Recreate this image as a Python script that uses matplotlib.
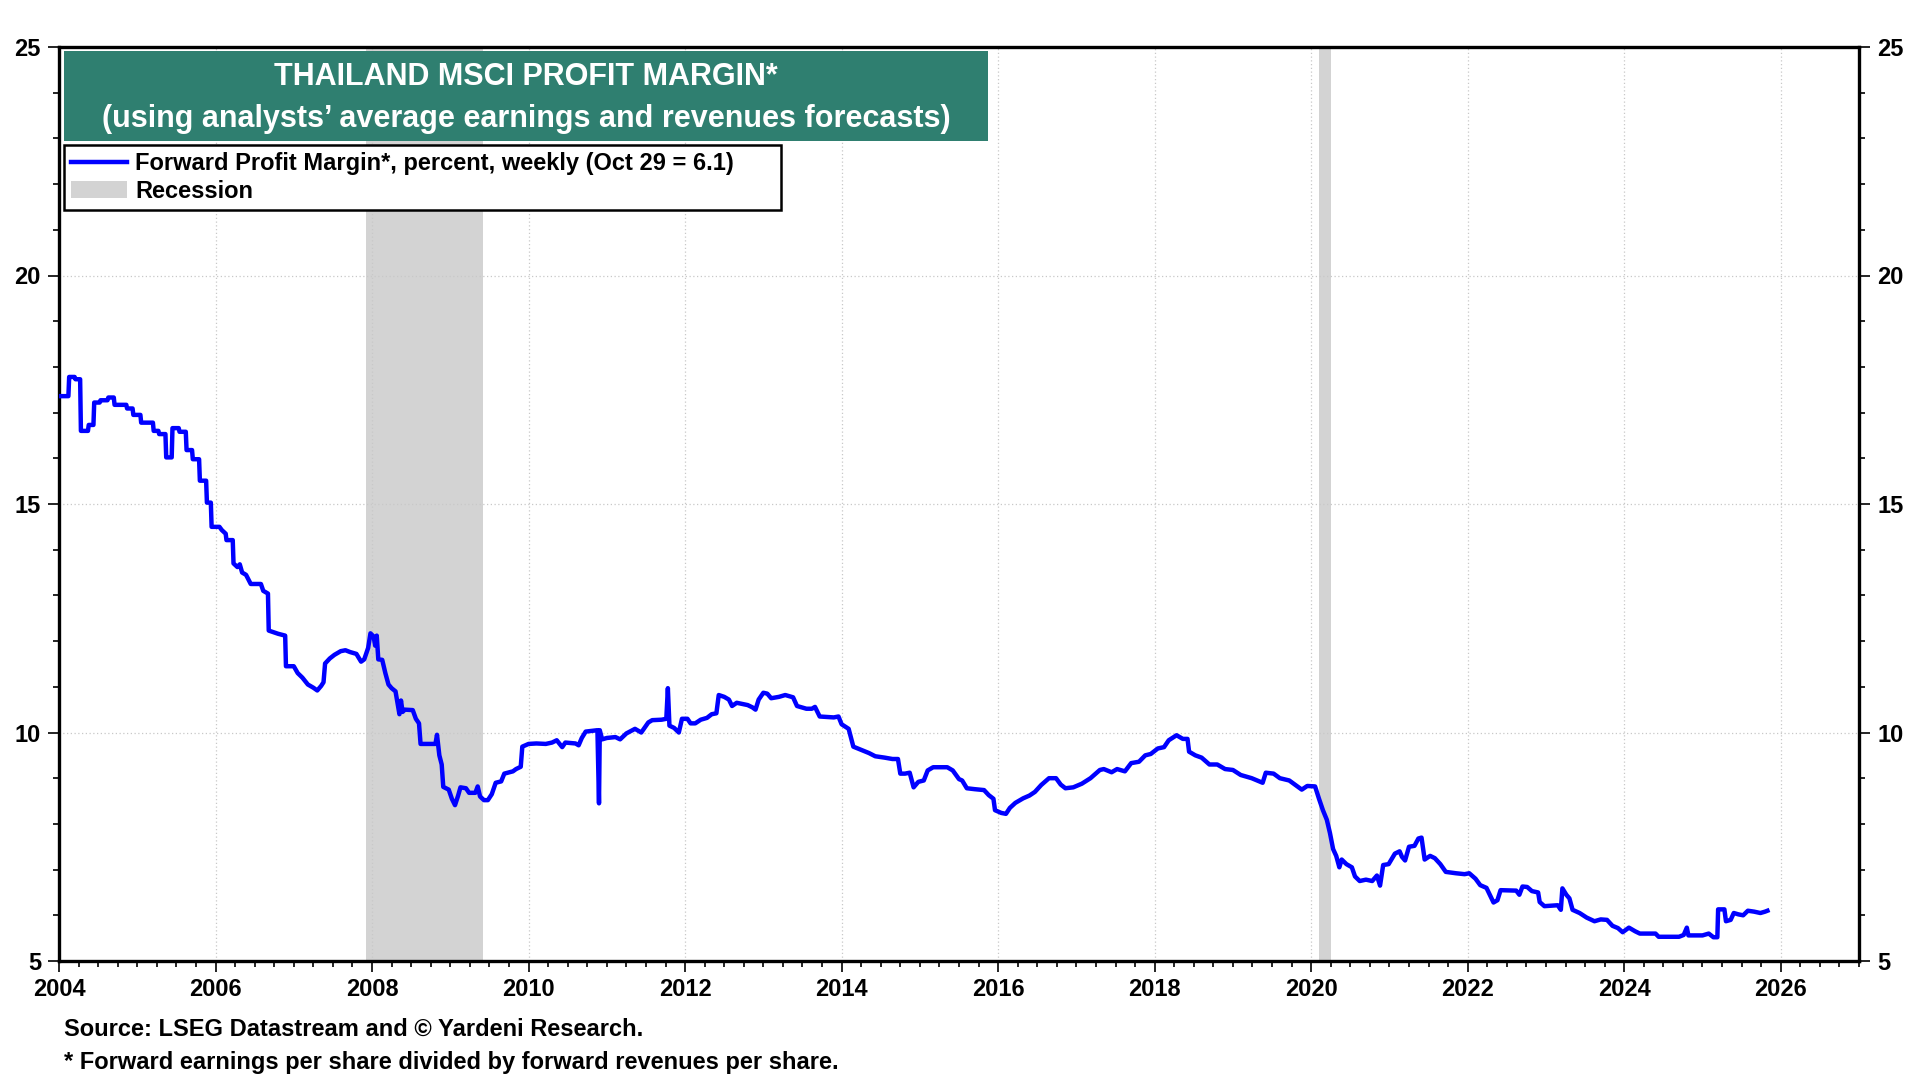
#!/usr/bin/env python3
import matplotlib
matplotlib.use("Agg")
import matplotlib.pyplot as plt
from matplotlib.lines import Line2D
from matplotlib.patches import Patch, Rectangle
from matplotlib.ticker import MultipleLocator

plt.rcParams['font.family'] = ['Liberation Sans', 'DejaVu Sans']
plt.rcParams['font.weight'] = 'bold'

# weekly forward profit margin (decimal year, percent)
years = [
    2004.00, 2004.12, 2004.13, 2004.20, 2004.21, 2004.27, 2004.28, 2004.37,
    2004.38, 2004.44, 2004.45, 2004.52, 2004.53, 2004.62, 2004.63, 2004.70,
    2004.71, 2004.86, 2004.87, 2004.94, 2004.95, 2005.04, 2005.05, 2005.20,
    2005.21, 2005.27, 2005.28, 2005.36, 2005.37, 2005.44, 2005.45, 2005.53,
    2005.54, 2005.62, 2005.63, 2005.70, 2005.71, 2005.79, 2005.80, 2005.88,
    2005.89, 2005.94, 2005.95, 2006.05, 2006.08, 2006.13, 2006.14, 2006.22,
    2006.23, 2006.28, 2006.31, 2006.34, 2006.39, 2006.45, 2006.58, 2006.61,
    2006.67, 2006.68, 2006.80, 2006.89, 2006.90, 2007.00, 2007.05, 2007.11,
    2007.18, 2007.25, 2007.30, 2007.35, 2007.38, 2007.40, 2007.46, 2007.52,
    2007.60, 2007.66, 2007.72, 2007.80, 2007.86, 2007.90, 2007.95, 2007.98,
    2008.02, 2008.04, 2008.06, 2008.08, 2008.13, 2008.17, 2008.21, 2008.25,
    2008.30, 2008.33, 2008.35, 2008.37, 2008.39, 2008.42, 2008.52, 2008.56,
    2008.60, 2008.62, 2008.81, 2008.83, 2008.86, 2008.89, 2008.91, 2008.98,
    2009.02, 2009.06, 2009.10, 2009.13, 2009.20, 2009.24, 2009.32, 2009.35,
    2009.38, 2009.43, 2009.48, 2009.53, 2009.58, 2009.65, 2009.69, 2009.80,
    2009.84, 2009.90, 2009.92, 2010.00, 2010.10, 2010.22, 2010.30, 2010.36,
    2010.43, 2010.47, 2010.60, 2010.64, 2010.68, 2010.73, 2010.88, 2010.90,
    2010.91, 2010.94, 2011.00, 2011.11, 2011.17, 2011.25, 2011.36, 2011.44,
    2011.53, 2011.58, 2011.70, 2011.76, 2011.78, 2011.80, 2011.86, 2011.92,
    2011.96, 2012.03, 2012.07, 2012.13, 2012.20, 2012.28, 2012.34, 2012.40,
    2012.43, 2012.50, 2012.56, 2012.60, 2012.66, 2012.80, 2012.86, 2012.90,
    2012.94, 2013.00, 2013.05, 2013.10, 2013.20, 2013.28, 2013.38, 2013.43,
    2013.55, 2013.62, 2013.66, 2013.72, 2013.90, 2013.96, 2014.00, 2014.09,
    2014.15, 2014.25, 2014.35, 2014.43, 2014.55, 2014.65, 2014.72, 2014.75,
    2014.81, 2014.87, 2014.92, 2014.98, 2015.05, 2015.10, 2015.17, 2015.35,
    2015.42, 2015.50, 2015.54, 2015.60, 2015.70, 2015.82, 2015.88, 2015.94,
    2015.96, 2016.04, 2016.10, 2016.15, 2016.22, 2016.32, 2016.40, 2016.47,
    2016.55, 2016.65, 2016.74, 2016.80, 2016.86, 2016.96, 2017.07, 2017.18,
    2017.30, 2017.35, 2017.45, 2017.52, 2017.62, 2017.70, 2017.80, 2017.88,
    2017.95, 2018.04, 2018.12, 2018.18, 2018.28, 2018.36, 2018.42, 2018.44,
    2018.52, 2018.60, 2018.70, 2018.80, 2018.90, 2019.00, 2019.10, 2019.24,
    2019.38, 2019.42, 2019.52, 2019.60, 2019.72, 2019.80, 2019.88, 2019.95,
    2020.05, 2020.10, 2020.15, 2020.20, 2020.24, 2020.28, 2020.32, 2020.36,
    2020.39, 2020.45, 2020.52, 2020.56, 2020.62, 2020.70, 2020.78, 2020.84,
    2020.88, 2020.92, 2020.99, 2021.07, 2021.13, 2021.16, 2021.20, 2021.25,
    2021.32, 2021.37, 2021.41, 2021.45, 2021.52, 2021.58, 2021.65, 2021.72,
    2021.85, 2021.96, 2022.02, 2022.10, 2022.16, 2022.24, 2022.33, 2022.38,
    2022.42, 2022.62, 2022.66, 2022.70, 2022.76, 2022.82, 2022.90, 2022.92,
    2022.98, 2023.15, 2023.19, 2023.21, 2023.26, 2023.30, 2023.34, 2023.43,
    2023.52, 2023.62, 2023.70, 2023.78, 2023.85, 2023.92, 2023.98, 2024.06,
    2024.14, 2024.20, 2024.40, 2024.44, 2024.70, 2024.76, 2024.80, 2024.82,
    2025.00, 2025.08, 2025.14, 2025.19, 2025.20, 2025.28, 2025.30, 2025.36,
    2025.40, 2025.46, 2025.52, 2025.58, 2025.66, 2025.74, 2025.80, 2025.83,
]
margin = [
    17.36, 17.36, 17.78, 17.78, 17.73, 17.73, 16.60, 16.60,
    16.73, 16.73, 17.22, 17.22, 17.27, 17.27, 17.33, 17.33,
    17.17, 17.17, 17.09, 17.09, 16.95, 16.95, 16.78, 16.78,
    16.60, 16.60, 16.53, 16.53, 16.02, 16.02, 16.66, 16.66,
    16.58, 16.58, 16.18, 16.18, 15.98, 15.98, 15.51, 15.51,
    15.03, 15.03, 14.50, 14.50, 14.43, 14.35, 14.21, 14.21,
    13.70, 13.62, 13.68, 13.50, 13.45, 13.25, 13.25, 13.10,
    13.04, 12.23, 12.16, 12.12, 11.45, 11.45, 11.30, 11.20,
    11.05, 10.98, 10.92, 11.02, 11.10, 11.51, 11.62, 11.70,
    11.78, 11.80, 11.76, 11.72, 11.55, 11.60, 11.85, 12.17,
    12.10, 11.90, 12.12, 11.60, 11.59, 11.30, 11.05, 10.97,
    10.90, 10.60, 10.40, 10.70, 10.45, 10.50, 10.49, 10.30,
    10.20, 9.75, 9.75, 9.95, 9.50, 9.30, 8.81, 8.75,
    8.55, 8.41, 8.62, 8.80, 8.78, 8.68, 8.68, 8.82,
    8.60, 8.52, 8.52, 8.65, 8.90, 8.93, 9.10, 9.15,
    9.20, 9.25, 9.69, 9.75, 9.76, 9.75, 9.78, 9.83,
    9.68, 9.78, 9.76, 9.72, 9.88, 10.02, 10.05, 8.45,
    10.05, 9.85, 9.88, 9.90, 9.85, 9.98, 10.08, 10.00,
    10.22, 10.27, 10.28, 10.30, 10.97, 10.15, 10.10, 10.00,
    10.30, 10.30, 10.20, 10.20, 10.28, 10.32, 10.40, 10.42,
    10.82, 10.78, 10.72, 10.58, 10.65, 10.60, 10.55, 10.50,
    10.72, 10.87, 10.85, 10.75, 10.78, 10.82, 10.77, 10.58,
    10.52, 10.52, 10.56, 10.35, 10.33, 10.35, 10.18, 10.08,
    9.69, 9.62, 9.55, 9.48, 9.45, 9.42, 9.42, 9.10,
    9.10, 9.12, 8.80, 8.92, 8.95, 9.17, 9.24, 9.24,
    9.17, 8.98, 8.95, 8.78, 8.76, 8.74, 8.63, 8.55,
    8.30, 8.24, 8.22, 8.35, 8.46, 8.56, 8.62, 8.70,
    8.85, 9.00, 9.00, 8.86, 8.78, 8.80, 8.88, 9.00,
    9.18, 9.20, 9.13, 9.20, 9.15, 9.33, 9.36, 9.50,
    9.53, 9.65, 9.68, 9.83, 9.94, 9.86, 9.86, 9.58,
    9.50, 9.45, 9.30, 9.30, 9.20, 9.18, 9.07, 9.00,
    8.90, 9.12, 9.10, 9.00, 8.95, 8.85, 8.75, 8.83,
    8.82, 8.55, 8.30, 8.09, 7.80, 7.45, 7.30, 7.05,
    7.22, 7.12, 7.05, 6.85, 6.75, 6.78, 6.75, 6.87,
    6.65, 7.10, 7.12, 7.35, 7.40, 7.28, 7.20, 7.50,
    7.52, 7.68, 7.70, 7.22, 7.30, 7.25, 7.12, 6.95,
    6.92, 6.90, 6.92, 6.80, 6.66, 6.60, 6.28, 6.33,
    6.55, 6.54, 6.45, 6.63, 6.62, 6.53, 6.50, 6.29,
    6.20, 6.22, 6.12, 6.59, 6.45, 6.37, 6.12, 6.05,
    5.95, 5.87, 5.91, 5.90, 5.77, 5.72, 5.63, 5.73,
    5.65, 5.60, 5.60, 5.53, 5.53, 5.57, 5.73, 5.56,
    5.56, 5.60, 5.52, 5.52, 6.13, 6.13, 5.87, 5.90,
    6.05, 6.02, 6.00, 6.10, 6.08, 6.05, 6.08, 6.10,
]

recessions = [(2007.92, 2009.42), (2020.10, 2020.25)]

title_lines = ["THAILAND MSCI PROFIT MARGIN*",
               "(using analysts\u2019 average earnings and revenues forecasts)"]
legend_labels = ["Forward Profit Margin*, percent, weekly (Oct 29 = 6.1)",
                 "Recession"]
notes = ["Source: LSEG Datastream and \u00a9 Yardeni Research.",
         "* Forward earnings per share divided by forward revenues per share."]

W, H = 1920, 1080


def fx(px):
    return px / W


def fy(py):
    return 1 - py / H


fig = plt.figure(figsize=(19.2, 10.8), dpi=100)
ax = fig.add_axes([fx(59), fy(961), fx(1859) - fx(59), fy(47) - fy(961)])

for start, end in recessions:
    ax.axvspan(start, end, color='#d3d3d3', lw=0, zorder=1)

ax.plot(years, margin, color='#0000ff', lw=3.2, zorder=3)

ax.set_xlim(2004, 2027)
ax.set_ylim(5, 25)
ax.xaxis.set_major_locator(MultipleLocator(2))
ax.xaxis.set_minor_locator(MultipleLocator(0.25))
ax.yaxis.set_major_locator(MultipleLocator(5))
ax.yaxis.set_minor_locator(MultipleLocator(1))
ax.set_xticks(range(2004, 2027, 2))
ax.grid(which='major', linestyle=(0, (1, 2)), color='#c8c8c8', lw=0.9, zorder=0)

for s in ax.spines.values():
    s.set_linewidth(2.4)

ax.tick_params(axis='both', which='both', direction='out', width=1.2,
               labelsize=17)
ax.tick_params(axis='both', which='major', length=8)
ax.tick_params(axis='both', which='minor', length=4)
ax.tick_params(axis='y', which='both', right=True, labelright=True, pad=5)
ax.tick_params(axis='x', pad=4)
for lab in ax.get_xticklabels() + ax.get_yticklabels():
    lab.set_fontweight('bold')

# title box
fig.patches.append(Rectangle((fx(64), fy(141)), fx(988) - fx(64), fy(51) - fy(141),
                             transform=fig.transFigure, facecolor='#2f7f70',
                             edgecolor='none', zorder=5))
cx = fx((64 + 988) / 2)
fig.text(cx, fy(77), title_lines[0], color='white', fontsize=22,
         fontweight='bold', ha='center', va='center', zorder=6)
fig.text(cx, fy(119), title_lines[1], color='white', fontsize=22,
         fontweight='bold', ha='center', va='center', zorder=6)

handles = [Line2D([], [], color='#0000ff', lw=3.2),
           Patch(facecolor='#d3d3d3', edgecolor='none')]
leg = fig.legend(handles, legend_labels, loc='upper left', mode='expand',
                 bbox_to_anchor=(fx(64), fy(210), fx(781) - fx(64), fy(145) - fy(210)),
                 bbox_transform=fig.transFigure, borderaxespad=0,
                 fancybox=False, framealpha=1, edgecolor='black',
                 prop={'weight': 'bold', 'size': 17}, handlelength=2.35,
                 handleheight=0.75, handletextpad=0.36, borderpad=0.3,
                 labelspacing=0.2)
leg.get_frame().set_linewidth(1.8)

fig.text(fx(64), fy(1029), notes[0], fontsize=17, fontweight='bold',
         ha='left', va='center')
fig.text(fx(64), fy(1062), notes[1], fontsize=17, fontweight='bold',
         ha='left', va='center')

fig.savefig('out.png', dpi=100)
